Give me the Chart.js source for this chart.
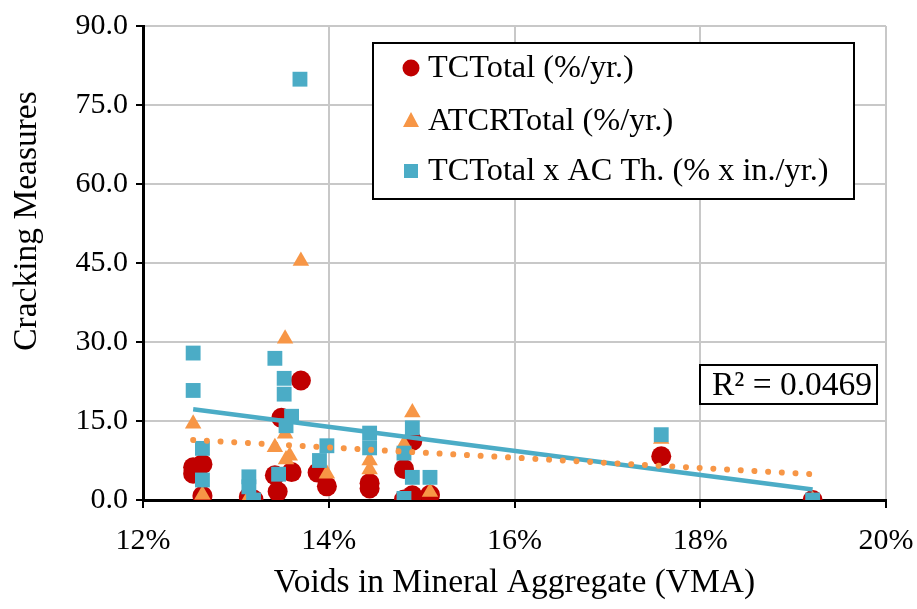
<!DOCTYPE html>
<html>
<head>
<meta charset="utf-8">
<script src="https://cdn.jsdelivr.net/npm/chart.js"></script>
<style>
  html, body { margin: 0; padding: 0; background: #fff; }
  #wrap { width: 917px; height: 609px; }
</style>
</head>
<body>
<div id="wrap"><canvas id="vmaChart" width="917" height="609"></canvas></div>
<script>
// Số liệu (VMA tính theo %)
const tcVma = [12.54, 12.64, 12.54, 12.64, 13.14, 13.19, 13.42, 13.45, 13.49, 13.70, 13.60, 13.88, 13.98, 14.44, 14.44, 14.81, 14.81, 14.90, 14.90, 15.09, 17.58, 19.21];
const tcTotal = [6.2, 6.8, 5.0, 0.8, 0.6, 0.1, 4.7, 1.6, 15.6, 22.7, 5.3, 5.2, 2.6, 3.2, 2.2, 5.9, 0.1, 11.2, 0.9, 1.0, 8.3, 0.0];

const atcrVma = [12.54, 12.64, 13.14, 13.42, 13.53, 13.53, 13.70, 13.58, 13.54, 13.98, 14.44, 14.44, 14.81, 14.90, 15.09, 17.58, 19.21];
const atcrTotal = [14.5, 1.0, 0.5, 10.0, 30.6, 12.6, 45.4, 8.4, 7.7, 5.0, 7.5, 5.8, 10.6, 16.6, 1.5, 11.6, 0.0];

const tcThVma = [12.54, 12.54, 12.64, 12.64, 13.14, 13.14, 13.19, 13.42, 13.52, 13.52, 13.60, 13.54, 13.46, 13.69, 13.90, 13.98, 14.44, 14.44, 14.81, 14.81, 14.90, 14.90, 15.09, 17.58, 19.21];
const tcThTotal = [27.9, 20.8, 9.8, 3.8, 4.4, 2.5, 0.0, 26.9, 23.1, 20.1, 15.9, 14.1, 4.9, 79.9, 7.5, 10.3, 12.7, 9.9, 8.9, 0.3, 13.7, 4.3, 4.3, 12.4, 0.0];

// Đường xu hướng (điểm đầu / cuối)
const trendVma = [12.54, 19.21];
const trendTcTh = [17.25, 2.0];
const trendAtcr = [11.4, 4.9];
const r2Text = "R\u00B2 = 0.0469";

const xTicks = [12, 14, 16, 18, 20];
const yTicks = [0, 15, 30, 45, 60, 75, 90];

const labels = ["TCTotal (%/yr.)", "ATCRTotal (%/yr.)", "TCTotal x AC Th. (% x in./yr.)"];
const colors = ["#C00000", "#F79646", "#4BACC6"];

const toPoints = (xs, ys) => xs.map((x, i) => ({ x: x, y: ys[i] }));

const FONT = "'Liberation Serif', 'Times New Roman', serif";

// Vẽ chú thích, hộp R² và tiêu đề trục Y
const boxLegend = {
  id: "boxLegend",
  afterDraw(chart) {
    const ctx = chart.ctx;
    ctx.save();
    ctx.fillStyle = "#fff";
    ctx.fillRect(373, 43, 481, 156);
    ctx.strokeStyle = "#000";
    ctx.lineWidth = 2;
    ctx.strokeRect(373, 43, 481, 156);
    const rows = [68, 121, 171];
    const styles = ["circle", "triangle", "rect"];
    rows.forEach((y, i) => {
      const x = 411;
      ctx.fillStyle = colors[i];
      ctx.beginPath();
      if (styles[i] === "circle") {
        ctx.arc(x, y, 8.5, 0, Math.PI * 2);
      } else if (styles[i] === "triangle") {
        ctx.moveTo(x, y - 9);
        ctx.lineTo(x + 8, y + 6);
        ctx.lineTo(x - 8, y + 6);
        ctx.closePath();
      } else {
        ctx.rect(x - 7, y - 7, 14, 14);
      }
      ctx.fill();
      ctx.fillStyle = "#000";
      ctx.font = "32.3px " + FONT;
      ctx.textBaseline = "middle";
      ctx.textAlign = "left";
      ctx.fillText(labels[i], 428, y + 1);
    });

    // Hộp R²
    ctx.fillStyle = "#fff";
    ctx.fillRect(700, 365, 177, 39);
    ctx.strokeRect(700, 365, 177, 39);
    ctx.fillStyle = "#000";
    ctx.font = "33.5px " + FONT;
    ctx.textAlign = "center";
    ctx.fillText(r2Text, 792, 386);

    // Tiêu đề trục Y
    ctx.translate(27, 221);
    ctx.rotate(-Math.PI / 2);
    ctx.font = "33.5px " + FONT;
    ctx.fillText("Cracking Measures", 0, 0);
    ctx.restore();
  },
};

const initChart = () => {
  const ctx = document.getElementById("vmaChart").getContext("2d");

  new Chart(ctx, {
    type: "scatter",
    data: {
      datasets: [
        {
          label: labels[0],
          data: toPoints(tcVma, tcTotal),
          backgroundColor: colors[0],
          borderWidth: 0,
          pointStyle: "circle",
          pointRadius: 10,
          order: 5,
        },
        {
          label: labels[1],
          data: toPoints(atcrVma, atcrTotal),
          backgroundColor: colors[1],
          borderWidth: 0,
          pointStyle: "triangle",
          pointRadius: 9.5,
          order: 4,
        },
        {
          type: "line",
          label: "trend TC x Th",
          data: toPoints(trendVma, trendTcTh),
          borderColor: colors[2],
          borderWidth: 4.5,
          pointRadius: 0,
          fill: false,
          order: 3,
        },
        {
          label: labels[2],
          data: toPoints(tcThVma, tcThTotal),
          backgroundColor: colors[2],
          borderWidth: 0,
          pointStyle: "rect",
          pointRadius: 10.5,
          order: 2,
        },
        {
          type: "line",
          label: "trend ATCR",
          data: toPoints(trendVma, trendAtcr),
          borderColor: colors[1],
          borderWidth: 6,
          borderCapStyle: "round",
          borderDash: [0.01, 13.7],
          pointRadius: 0,
          fill: false,
          order: 1,
        },
      ],
    },
    options: {
      responsive: false,
      animation: false,
      layout: { padding: { left: 0, top: 20, right: 0, bottom: 0 } },
      plugins: {
        legend: { display: false },
        tooltip: { enabled: false },
      },
      scales: {
        x: {
          type: "linear",
          min: 12,
          max: 20,
          afterBuildTicks: (s) => { s.ticks = xTicks.map((v) => ({ value: v })); },
          afterFit: (s) => { s.height = 109; s.paddingLeft = 0; s.paddingRight = 31; },
          ticks: {
            color: "#000",
            font: { family: FONT, size: 30 },
            padding: 15,
            callback: (v) => v + "%",
          },
          grid: { color: "#C8C8C8", lineWidth: 2, tickColor: "#000", tickLength: 8 },
          border: { color: "#000", width: 3 },
          title: {
            display: true,
            text: "Voids in Mineral Aggregate (VMA)",
            color: "#000",
            font: { family: FONT, size: 33.5 },
            padding: { top: 0, bottom: 6 },
          },
        },
        y: {
          type: "linear",
          min: 0,
          max: 90,
          afterBuildTicks: (s) => { s.ticks = yTicks.map((v) => ({ value: v })); },
          afterFit: (s) => { s.width = 143; },
          ticks: {
            color: "#000",
            font: { family: FONT, size: 30 },
            padding: 8,
            callback: (v) => v.toFixed(1),
          },
          grid: { color: "#C8C8C8", lineWidth: 2, tickColor: "#000", tickLength: 7 },
          border: { color: "#000", width: 3 },
        },
      },
    },
    plugins: [boxLegend],
  });
};

document.addEventListener("DOMContentLoaded", () => {
  initChart();
});
</script>
</body>
</html>
